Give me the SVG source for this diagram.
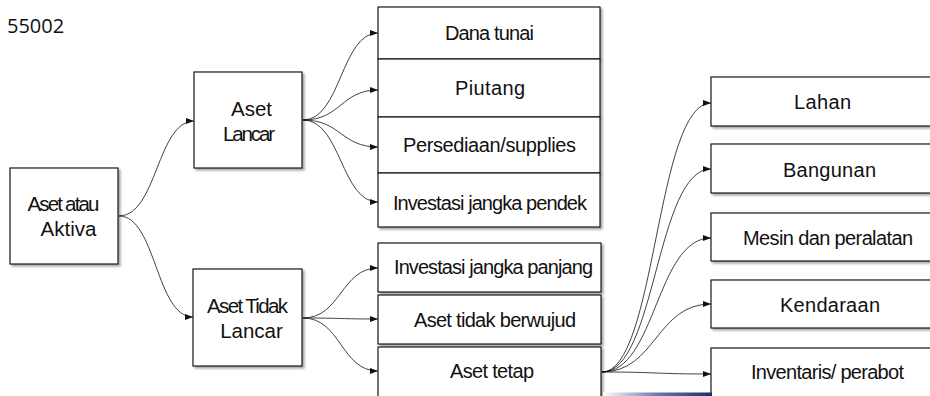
<svg xmlns="http://www.w3.org/2000/svg" width="930" height="396" viewBox="0 0 930 396">
  <style>
    .box { fill: #ffffff; stroke: #1a1a1a; stroke-width: 1.2; filter: url(#shadow); }
    .lbl { font-family: "Liberation Sans", Arial, sans-serif; font-size: 20px; fill: #111; text-anchor: middle; }
    .big { font-size: 20.5px; }
    .edge { fill: none; stroke: #111; stroke-width: 0.8; marker-end: url(#arrow); }
    .code { font-family: "Open Sans", "Noto Sans", sans-serif; font-size: 20px; fill: #111; }
  </style>
  <defs>
    <filter id="shadow" x="-5%" y="-10%" width="115%" height="130%">
      <feDropShadow dx="2" dy="2" stdDeviation="1.2" flood-color="#000" flood-opacity="0.35"/>
    </filter>
    <marker id="arrow" viewBox="0 0 8 6" refX="8" refY="3" markerWidth="8" markerHeight="6" markerUnits="userSpaceOnUse" orient="auto">
      <path d="M0,0 L8,3 L0,6 Z" fill="#111"/>
    </marker>
    <linearGradient id="bar" x1="0" y1="0" x2="1" y2="0">
      <stop offset="0" stop-color="#ffffff"/>
      <stop offset="0.5" stop-color="#6b77b0"/>
      <stop offset="1" stop-color="#1c2a70"/>
    </linearGradient>
  </defs>

  <rect width="930" height="396" fill="#ffffff"/>

  <text class="code" x="7" y="33">55002</text>

  <!-- connectors -->
  <g id="connectors">
    <path class="edge" d="M119,216 C157,216 157,121 194,121"/>
    <path class="edge" d="M119,216 C156,216 156,317 193,317"/>
    <path class="edge" d="M303,120 C341,120 341,33 378,33"/>
    <path class="edge" d="M303,120 C341,120 341,90 378,90"/>
    <path class="edge" d="M303,120 C341,120 341,147 378,147"/>
    <path class="edge" d="M303,120 C341,120 341,202 378,202"/>
    <path class="edge" d="M303,318 C341,318 341,268 378,268"/>
    <path class="edge" d="M303,318 C341,318 341,319 378,319"/>
    <path class="edge" d="M303,318 C341,318 341,371 378,371"/>
    <line x1="570" y1="372" x2="601" y2="372" stroke="#dddddd" stroke-width="1"/>
    <path class="edge" d="M602,372 C656,372 656,103 711,103"/>
    <path class="edge" d="M602,372 C656,372 656,169 711,169"/>
    <path class="edge" d="M602,372 C656,372 656,238 711,238"/>
    <path class="edge" d="M602,372 C656,372 656,304 711,304"/>
    <path class="edge" d="M602,372 C656,372 656,374 711,374"/>
  </g>

  <!-- root -->
  <g id="aset-atau-aktiva">
    <rect class="box" x="10" y="168" width="108" height="96"/>
    <text class="lbl big" x="63.5" y="211" textLength="72" lengthAdjust="spacing">Aset atau</text>
    <text class="lbl big" x="68.5" y="236">Aktiva</text>
  </g>

  <g id="aset-lancar">
    <rect class="box" x="194" y="72" width="108" height="96"/>
    <text class="lbl big" x="251.5" y="116">Aset</text>
    <text class="lbl big" x="249" y="141" textLength="52" lengthAdjust="spacing">Lancar</text>
  </g>

  <g id="aset-tidak-lancar">
    <rect class="box" x="193" y="269" width="109" height="97"/>
    <text class="lbl big" x="247.5" y="313" textLength="81" lengthAdjust="spacing">Aset Tidak</text>
    <text class="lbl big" x="251.5" y="338">Lancar</text>
  </g>

  <!-- current assets -->
  <g id="dana-tunai">
    <rect class="box" x="378" y="7" width="222" height="52"/>
    <text class="lbl" x="489.5" y="40" textLength="89" lengthAdjust="spacing">Dana tunai</text>
  </g>
  <g id="piutang">
    <rect class="box" x="378" y="59" width="222" height="58"/>
    <text class="lbl" x="490" y="95" textLength="70" lengthAdjust="spacing">Piutang</text>
  </g>
  <g id="persediaan">
    <rect class="box" x="378" y="117" width="222" height="56"/>
    <text class="lbl" x="489.5" y="152" textLength="173" lengthAdjust="spacing">Persediaan/supplies</text>
  </g>
  <g id="investasi-pendek">
    <rect class="box" x="378" y="173" width="222" height="54"/>
    <text class="lbl" x="490" y="210" textLength="194" lengthAdjust="spacing">Investasi jangka pendek</text>
  </g>

  <!-- non-current assets -->
  <g id="investasi-panjang">
    <rect class="box" x="378" y="243" width="223" height="49"/>
    <text class="lbl" x="493.5" y="274" textLength="199" lengthAdjust="spacing">Investasi jangka panjang</text>
  </g>
  <g id="aset-tidak-berwujud">
    <rect class="box" x="378" y="295" width="223" height="49"/>
    <text class="lbl" x="495" y="327" textLength="162" lengthAdjust="spacing">Aset tidak berwujud</text>
  </g>
  <g id="aset-tetap">
    <rect class="box" x="378" y="347" width="223" height="60"/>
    <text class="lbl" x="492" y="378" textLength="84" lengthAdjust="spacing">Aset tetap</text>
  </g>

  <!-- fixed assets -->
  <g id="lahan">
    <rect class="box" x="711" y="77" width="230" height="49"/>
    <text class="lbl" x="822.5" y="109" textLength="57" lengthAdjust="spacing">Lahan</text>
  </g>
  <g id="bangunan">
    <rect class="box" x="711" y="144" width="230" height="49"/>
    <text class="lbl" x="829.5" y="177" textLength="93" lengthAdjust="spacing">Bangunan</text>
  </g>
  <g id="mesin">
    <rect class="box" x="711" y="213" width="230" height="48"/>
    <text class="lbl" x="828" y="245" textLength="170" lengthAdjust="spacing">Mesin dan peralatan</text>
  </g>
  <g id="kendaraan">
    <rect class="box" x="711" y="280" width="230" height="48"/>
    <text class="lbl" x="830" y="312" textLength="100" lengthAdjust="spacing">Kendaraan</text>
  </g>
  <g id="inventaris">
    <rect class="box" x="711" y="348" width="230" height="60"/>
    <text class="lbl" x="827.5" y="379" textLength="153" lengthAdjust="spacing">Inventaris/ perabot</text>
  </g>

  <rect x="603" y="392.5" width="109" height="3.5" fill="url(#bar)"/>
</svg>
